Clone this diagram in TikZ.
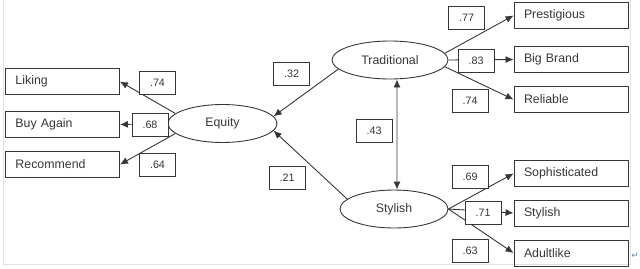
\documentclass[tikz,border=0pt]{standalone}
\usepackage{fontspec}
\setmainfont{Liberation Sans}
\newfontfamily\symfont{DejaVu Sans}
\usetikzlibrary{arrows.meta,shapes.geometric}
\definecolor{ink}{HTML}{363636}
\definecolor{rulegray}{HTML}{E2E2E2}
\definecolor{parablue}{HTML}{5B8DB8}
\begin{document}
\begin{tikzpicture}[x=1bp,y=-1bp,
  item/.style={draw=ink,line width=0.9bp,text=ink,minimum height=26bp,
    text width=94bp,inner xsep=10bp,align=left,font=\fontsize{12.4}{14}\selectfont},
  factor/.style={draw=ink,line width=0.9bp,ellipse,text=ink,inner sep=0pt,
    minimum height=38bp,font=\fontsize{12.4}{14}\selectfont},
  weight/.style={draw=ink,line width=0.9bp,fill=white,text=ink,inner sep=0pt,
    minimum width=36bp,minimum height=23bp,font=\fontsize{10.8}{12}\selectfont},
  load/.style={draw=ink,line width=0.9bp,-{Latex[length=8bp,width=7bp]}}]
% frame and page size
\useasboundingbox (0,0) rectangle (640,268);
\draw[rulegray,line width=0.8bp] (3,0) -- (3,264) -- (630,264) -- (630,0);
\node[text=parablue,font=\symfont\fontsize{9}{10}\selectfont] (para) at (635,256) {↵};
% indicators
\node[item] (liking) at (62.5,81.5) {Liking};
\node[item] (buyagain) at (62.5,124.5) {Buy Again};
\node[item] (recommend) at (62.5,164.5) {Recommend};
\node[item] (prestigious) at (571,15.5) {Prestigious};
\node[item] (bigbrand) at (571,59.5) {Big Brand};
\node[item] (reliable) at (571,99.5) {Reliable};
\node[item] (sophisticated) at (571,173.5) {Sophisticated};
\node[item] (stylishitem) at (571,213) {Stylish};
\node[item] (adultlike) at (571,253) {Adultlike};
% latent factors
\node[factor,minimum width=109bp] (equity) at (222.5,123.5) {Equity};
\node[factor,minimum width=116bp] (traditional) at (390,60) {Traditional};
\node[factor,minimum width=108bp] (stylish) at (394,209) {Stylish};
% paths
\draw[load] (equity.168) -- (liking.east);
\draw[load] (equity.west) -- (buyagain.east);
\draw[load] (equity.192) -- (recommend.east);
\draw[load] (traditional.190) -- (equity.8);
\draw[load] (stylish.168) -- (equity.-8);
\draw[load,{Latex[length=8bp,width=7bp]}-{Latex[length=8bp,width=7bp]}]
  ([xshift=7bp]traditional.south) -- ([xshift=3bp]stylish.north);
\draw[load] (traditional.7) -- (prestigious.west);
\draw[load] (traditional.east) -- (bigbrand.west);
\draw[load] (traditional.-7) -- (reliable.west);
\draw[load] (stylish.east) -- (sophisticated.west);
\draw[load] (stylish.east) -- (stylishitem.west);
\draw[load] (stylish.east) -- (adultlike.west);
% coefficients
\node[weight] (wliking) at (157.5,83) {.74};
\node[weight] (wbuyagain) at (150,125) {.68};
\node[weight] (wrecommend) at (157.5,165) {.64};
\node[weight] (wtraditional) at (291.5,74) {.32};
\node[weight] (wstylish) at (287,177.5) {.21};
\node[weight] (wcov) at (374,131) {.43};
\node[weight] (wprestigious) at (466.5,17.5) {.77};
\node[weight] (wbigbrand) at (476,60.5) {.83};
\node[weight] (wreliable) at (470,101) {.74};
\node[weight] (wsophisticated) at (470,177) {.69};
\node[weight] (wstylishitem) at (483,213) {.71};
\node[weight] (wadultlike) at (470,250.5) {.63};
\end{tikzpicture}
\end{document}
